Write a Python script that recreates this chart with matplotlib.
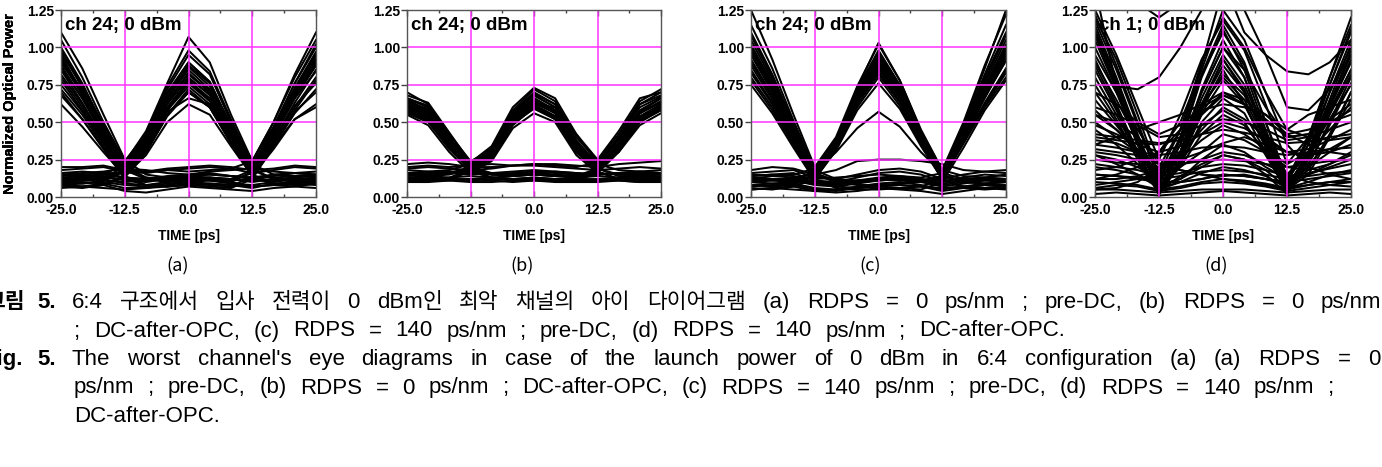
import matplotlib
matplotlib.use("Agg")
import matplotlib.pyplot as plt
from matplotlib.ticker import FixedLocator, FormatStrFormatter

# ---------------- data ----------------
time_ps = [-25.0, -20.83, -16.67, -12.5, -8.33, -4.17, 0.0, 4.17, 8.33, 12.5, 16.67, 20.83, 25.0]

eye_a = [
    [0.95, 0.70, 0.44, 0.20, 0.38, 0.66, 0.85, 0.72, 0.44, 0.20, 0.45, 0.72, 0.95],
    [0.88, 0.66, 0.40, 0.17, 0.34, 0.60, 0.78, 0.66, 0.40, 0.17, 0.40, 0.66, 0.88],
    [1.05, 0.80, 0.50, 0.24, 0.42, 0.72, 0.95, 0.82, 0.50, 0.24, 0.50, 0.80, 1.05],
    [0.78, 0.58, 0.36, 0.15, 0.30, 0.55, 0.72, 0.60, 0.36, 0.15, 0.36, 0.58, 0.78],
    [0.92, 0.68, 0.42, 0.18, 0.12, 0.10, 0.11, 0.12, 0.10, 0.17, 0.42, 0.70, 0.93],
    [0.85, 0.63, 0.38, 0.14, 0.08, 0.07, 0.09, 0.08, 0.07, 0.14, 0.38, 0.63, 0.85],
    [0.12, 0.11, 0.12, 0.18, 0.36, 0.64, 0.82, 0.70, 0.42, 0.18, 0.12, 0.11, 0.12],
    [0.08, 0.07, 0.09, 0.14, 0.32, 0.58, 0.74, 0.62, 0.37, 0.14, 0.08, 0.07, 0.09],
    [0.15, 0.14, 0.15, 0.22, 0.42, 0.74, 0.98, 0.84, 0.52, 0.22, 0.15, 0.14, 0.15],
    [0.98, 0.74, 0.46, 0.21, 0.38, 0.66, 0.87, 0.74, 0.45, 0.19, 0.12, 0.10, 0.11],
    [0.80, 0.60, 0.37, 0.16, 0.33, 0.58, 0.76, 0.64, 0.38, 0.15, 0.09, 0.08, 0.09],
    [0.10, 0.09, 0.11, 0.17, 0.36, 0.64, 0.83, 0.70, 0.43, 0.19, 0.44, 0.72, 0.96],
    [0.13, 0.12, 0.13, 0.20, 0.40, 0.70, 0.90, 0.77, 0.47, 0.21, 0.46, 0.76, 1.02],
    [0.07, 0.06, 0.08, 0.13, 0.30, 0.55, 0.70, 0.60, 0.36, 0.14, 0.34, 0.56, 0.72],
    [1.00, 0.76, 0.47, 0.20, 0.13, 0.11, 0.12, 0.13, 0.11, 0.12, 0.11, 0.12, 0.13],
    [0.70, 0.52, 0.32, 0.12, 0.08, 0.07, 0.08, 0.09, 0.08, 0.07, 0.08, 0.09, 0.08],
    [1.10, 0.86, 0.55, 0.25, 0.15, 0.13, 0.14, 0.15, 0.14, 0.13, 0.15, 0.16, 0.15],
    [0.11, 0.12, 0.11, 0.10, 0.11, 0.12, 0.13, 0.12, 0.11, 0.16, 0.40, 0.68, 0.90],
    [0.08, 0.07, 0.06, 0.05, 0.06, 0.07, 0.08, 0.07, 0.06, 0.12, 0.34, 0.52, 0.62],
    [0.16, 0.17, 0.16, 0.16, 0.17, 0.18, 0.17, 0.18, 0.19, 0.24, 0.50, 0.82, 1.10],
    [0.10, 0.11, 0.12, 0.09, 0.08, 0.10, 0.12, 0.11, 0.09, 0.08, 0.10, 0.12, 0.11],
    [0.14, 0.15, 0.16, 0.13, 0.12, 0.14, 0.15, 0.16, 0.14, 0.12, 0.14, 0.16, 0.15],
    [0.06, 0.07, 0.08, 0.04, 0.03, 0.05, 0.07, 0.06, 0.05, 0.04, 0.06, 0.07, 0.06],
    [0.18, 0.19, 0.20, 0.17, 0.16, 0.18, 0.19, 0.20, 0.19, 0.16, 0.18, 0.20, 0.19],
    [0.12, 0.13, 0.14, 0.11, 0.10, 0.12, 0.14, 0.13, 0.12, 0.10, 0.12, 0.13, 0.12],
    [0.09, 0.10, 0.09, 0.06, 0.06, 0.08, 0.10, 0.09, 0.08, 0.06, 0.09, 0.10, 0.10],
    [0.90, 0.72, 0.45, 0.22, 0.40, 0.68, 0.88, 0.76, 0.48, 0.22, 0.43, 0.70, 0.92],
    [0.72, 0.55, 0.34, 0.14, 0.31, 0.57, 0.66, 0.62, 0.40, 0.16, 0.38, 0.60, 0.80],
    [0.96, 0.75, 0.48, 0.23, 0.44, 0.76, 1.07, 0.90, 0.55, 0.24, 0.47, 0.76, 1.00],
    [0.62, 0.47, 0.30, 0.14, 0.28, 0.50, 0.62, 0.55, 0.34, 0.14, 0.32, 0.52, 0.60],
    [0.82, 0.62, 0.39, 0.18, 0.35, 0.62, 0.80, 0.68, 0.42, 0.19, 0.41, 0.66, 0.84],
    [0.98, 0.73, 0.45, 0.21, 0.39, 0.69, 0.90, 0.77, 0.47, 0.21, 0.44, 0.73, 0.97],
    [0.75, 0.57, 0.36, 0.17, 0.33, 0.59, 0.77, 0.65, 0.40, 0.18, 0.38, 0.61, 0.76],
    [0.86, 0.66, 0.42, 0.19, 0.37, 0.64, 0.82, 0.71, 0.44, 0.20, 0.42, 0.68, 0.89],
    [0.93, 0.70, 0.43, 0.19, 0.36, 0.63, 0.79, 0.69, 0.43, 0.18, 0.40, 0.69, 0.91],
    [0.68, 0.52, 0.33, 0.15, 0.30, 0.54, 0.70, 0.60, 0.37, 0.16, 0.35, 0.57, 0.70],
    [0.15, 0.16, 0.17, 0.19, 0.18, 0.16, 0.15, 0.17, 0.18, 0.19, 0.17, 0.16, 0.17],
    [0.08, 0.09, 0.10, 0.08, 0.07, 0.09, 0.10, 0.11, 0.10, 0.07, 0.08, 0.10, 0.09],
    [0.11, 0.12, 0.13, 0.12, 0.11, 0.12, 0.12, 0.13, 0.12, 0.11, 0.11, 0.12, 0.12],
    [0.13, 0.14, 0.15, 0.13, 0.12, 0.13, 0.14, 0.15, 0.14, 0.13, 0.13, 0.14, 0.14],
    [0.20, 0.20, 0.21, 0.18, 0.17, 0.19, 0.20, 0.21, 0.20, 0.18, 0.19, 0.21, 0.20],
    [0.90, 0.69, 0.43, 0.20, 0.13, 0.12, 0.13, 0.12, 0.12, 0.18, 0.41, 0.67, 0.88],
]

eye_b = [
    [0.62, 0.56, 0.36, 0.20, 0.28, 0.52, 0.64, 0.56, 0.32, 0.20, 0.34, 0.54, 0.62],
    [0.66, 0.60, 0.40, 0.22, 0.30, 0.55, 0.68, 0.60, 0.35, 0.22, 0.38, 0.58, 0.66],
    [0.58, 0.52, 0.33, 0.18, 0.25, 0.48, 0.60, 0.52, 0.30, 0.18, 0.31, 0.50, 0.58],
    [0.70, 0.62, 0.42, 0.23, 0.33, 0.58, 0.72, 0.64, 0.40, 0.24, 0.42, 0.64, 0.72],
    [0.64, 0.57, 0.37, 0.19, 0.15, 0.14, 0.15, 0.14, 0.13, 0.18, 0.35, 0.56, 0.64],
    [0.60, 0.54, 0.34, 0.17, 0.13, 0.12, 0.12, 0.12, 0.11, 0.16, 0.32, 0.52, 0.60],
    [0.15, 0.14, 0.15, 0.19, 0.28, 0.53, 0.66, 0.57, 0.33, 0.19, 0.15, 0.14, 0.15],
    [0.12, 0.11, 0.12, 0.17, 0.26, 0.50, 0.62, 0.54, 0.30, 0.17, 0.12, 0.11, 0.12],
    [0.18, 0.17, 0.18, 0.22, 0.32, 0.57, 0.70, 0.62, 0.38, 0.22, 0.18, 0.17, 0.18],
    [0.65, 0.58, 0.38, 0.21, 0.29, 0.54, 0.66, 0.58, 0.34, 0.19, 0.14, 0.13, 0.14],
    [0.56, 0.50, 0.32, 0.18, 0.27, 0.50, 0.60, 0.53, 0.31, 0.17, 0.12, 0.11, 0.12],
    [0.13, 0.12, 0.13, 0.18, 0.27, 0.52, 0.65, 0.57, 0.34, 0.20, 0.36, 0.57, 0.66],
    [0.16, 0.15, 0.16, 0.20, 0.30, 0.55, 0.68, 0.60, 0.36, 0.21, 0.40, 0.62, 0.70],
    [0.66, 0.60, 0.39, 0.20, 0.16, 0.15, 0.16, 0.15, 0.14, 0.15, 0.16, 0.15, 0.16],
    [0.60, 0.55, 0.36, 0.18, 0.13, 0.12, 0.13, 0.12, 0.12, 0.12, 0.13, 0.12, 0.13],
    [0.12, 0.13, 0.12, 0.12, 0.13, 0.12, 0.13, 0.12, 0.12, 0.17, 0.33, 0.53, 0.60],
    [0.20, 0.21, 0.20, 0.21, 0.22, 0.21, 0.22, 0.21, 0.20, 0.23, 0.40, 0.62, 0.68],
    [0.10, 0.10, 0.11, 0.10, 0.10, 0.11, 0.11, 0.10, 0.10, 0.10, 0.11, 0.10, 0.10],
    [0.13, 0.14, 0.13, 0.14, 0.13, 0.14, 0.15, 0.14, 0.13, 0.14, 0.13, 0.14, 0.13],
    [0.16, 0.17, 0.16, 0.15, 0.16, 0.17, 0.18, 0.17, 0.16, 0.15, 0.16, 0.17, 0.16],
    [0.19, 0.20, 0.19, 0.18, 0.19, 0.21, 0.21, 0.20, 0.19, 0.18, 0.19, 0.20, 0.19],
    [0.11, 0.12, 0.12, 0.11, 0.12, 0.12, 0.12, 0.12, 0.11, 0.11, 0.12, 0.12, 0.11],
    [0.22, 0.23, 0.22, 0.20, 0.20, 0.21, 0.22, 0.22, 0.21, 0.20, 0.22, 0.23, 0.24],
    [0.14, 0.15, 0.16, 0.16, 0.15, 0.16, 0.17, 0.16, 0.15, 0.16, 0.15, 0.16, 0.15],
    [0.63, 0.59, 0.42, 0.24, 0.31, 0.50, 0.62, 0.60, 0.42, 0.23, 0.30, 0.50, 0.61],
    [0.55, 0.48, 0.30, 0.16, 0.24, 0.46, 0.56, 0.50, 0.28, 0.16, 0.30, 0.48, 0.56],
    [0.68, 0.63, 0.43, 0.23, 0.34, 0.60, 0.73, 0.66, 0.42, 0.25, 0.44, 0.66, 0.70],
    [0.64, 0.58, 0.39, 0.21, 0.29, 0.53, 0.66, 0.58, 0.34, 0.21, 0.36, 0.56, 0.64],
    [0.61, 0.55, 0.36, 0.20, 0.28, 0.51, 0.63, 0.56, 0.33, 0.20, 0.34, 0.53, 0.61],
    [0.59, 0.53, 0.35, 0.19, 0.27, 0.50, 0.61, 0.54, 0.32, 0.19, 0.33, 0.52, 0.59],
    [0.66, 0.61, 0.41, 0.22, 0.31, 0.56, 0.69, 0.62, 0.37, 0.22, 0.39, 0.60, 0.67],
    [0.57, 0.51, 0.33, 0.18, 0.26, 0.49, 0.59, 0.52, 0.31, 0.18, 0.32, 0.51, 0.58],
    [0.15, 0.16, 0.17, 0.17, 0.16, 0.15, 0.16, 0.17, 0.16, 0.15, 0.16, 0.17, 0.16],
    [0.10, 0.11, 0.11, 0.12, 0.11, 0.10, 0.11, 0.11, 0.10, 0.11, 0.11, 0.10, 0.11],
    [0.62, 0.57, 0.38, 0.20, 0.15, 0.14, 0.15, 0.14, 0.14, 0.19, 0.36, 0.56, 0.63],
]

eye_c = [
    [1.00, 0.74, 0.44, 0.16, 0.36, 0.68, 0.92, 0.70, 0.40, 0.15, 0.42, 0.72, 1.00],
    [0.92, 0.68, 0.40, 0.14, 0.34, 0.64, 0.86, 0.66, 0.37, 0.13, 0.39, 0.68, 0.94],
    [1.05, 0.78, 0.47, 0.18, 0.38, 0.72, 0.98, 0.75, 0.43, 0.17, 0.44, 0.76, 1.05],
    [0.85, 0.63, 0.37, 0.12, 0.32, 0.60, 0.80, 0.61, 0.35, 0.12, 0.37, 0.62, 0.85],
    [1.25, 0.92, 0.55, 0.20, 0.40, 0.74, 1.02, 0.78, 0.45, 0.18, 0.50, 0.88, 1.22],
    [0.98, 0.72, 0.42, 0.15, 0.10, 0.08, 0.08, 0.09, 0.10, 0.14, 0.40, 0.70, 0.97],
    [0.80, 0.60, 0.35, 0.12, 0.06, 0.05, 0.05, 0.06, 0.07, 0.12, 0.36, 0.60, 0.80],
    [0.10, 0.09, 0.10, 0.15, 0.36, 0.68, 0.90, 0.69, 0.40, 0.14, 0.10, 0.09, 0.10],
    [0.06, 0.05, 0.07, 0.12, 0.33, 0.63, 0.84, 0.64, 0.36, 0.12, 0.06, 0.05, 0.06],
    [0.13, 0.12, 0.12, 0.17, 0.30, 0.46, 0.57, 0.47, 0.30, 0.16, 0.12, 0.11, 0.12],
    [0.15, 0.14, 0.15, 0.19, 0.38, 0.73, 1.03, 0.78, 0.44, 0.18, 0.14, 0.13, 0.15],
    [1.02, 0.76, 0.45, 0.17, 0.37, 0.70, 0.95, 0.72, 0.42, 0.15, 0.10, 0.09, 0.10],
    [0.88, 0.65, 0.39, 0.13, 0.33, 0.62, 0.82, 0.63, 0.36, 0.12, 0.07, 0.06, 0.07],
    [0.08, 0.07, 0.08, 0.14, 0.35, 0.66, 0.88, 0.68, 0.39, 0.14, 0.42, 0.74, 1.02],
    [0.12, 0.11, 0.12, 0.16, 0.36, 0.69, 0.93, 0.71, 0.41, 0.16, 0.46, 0.80, 1.10],
    [1.10, 0.82, 0.49, 0.18, 0.12, 0.11, 0.12, 0.13, 0.12, 0.11, 0.12, 0.13, 0.12],
    [0.75, 0.56, 0.33, 0.11, 0.07, 0.06, 0.07, 0.08, 0.07, 0.06, 0.07, 0.08, 0.07],
    [0.10, 0.11, 0.10, 0.09, 0.10, 0.11, 0.12, 0.11, 0.10, 0.13, 0.38, 0.66, 0.92],
    [0.05, 0.06, 0.05, 0.04, 0.05, 0.06, 0.07, 0.06, 0.05, 0.10, 0.33, 0.58, 0.78],
    [0.14, 0.15, 0.14, 0.12, 0.13, 0.14, 0.15, 0.14, 0.13, 0.16, 0.48, 0.86, 1.25],
    [0.10, 0.12, 0.11, 0.08, 0.07, 0.09, 0.11, 0.12, 0.10, 0.07, 0.09, 0.11, 0.10],
    [0.14, 0.15, 0.16, 0.11, 0.10, 0.13, 0.16, 0.17, 0.15, 0.10, 0.13, 0.15, 0.14],
    [0.05, 0.06, 0.07, 0.04, 0.03, 0.04, 0.06, 0.05, 0.04, 0.02, 0.04, 0.06, 0.05],
    [0.18, 0.20, 0.19, 0.15, 0.18, 0.24, 0.25, 0.25, 0.24, 0.22, 0.18, 0.17, 0.18],
    [0.08, 0.09, 0.09, 0.06, 0.05, 0.07, 0.09, 0.10, 0.08, 0.05, 0.07, 0.09, 0.08],
    [0.12, 0.14, 0.13, 0.10, 0.09, 0.11, 0.13, 0.14, 0.12, 0.09, 0.11, 0.13, 0.12],
    [0.95, 0.70, 0.42, 0.15, 0.34, 0.66, 0.88, 0.68, 0.39, 0.14, 0.40, 0.70, 0.96],
    [1.15, 0.86, 0.51, 0.19, 0.39, 0.70, 0.94, 0.72, 0.41, 0.16, 0.47, 0.82, 1.15],
    [0.97, 0.72, 0.43, 0.15, 0.35, 0.67, 0.90, 0.69, 0.39, 0.14, 0.41, 0.71, 0.98],
    [0.90, 0.67, 0.40, 0.14, 0.34, 0.65, 0.87, 0.67, 0.38, 0.13, 0.39, 0.67, 0.91],
    [1.08, 0.80, 0.48, 0.17, 0.37, 0.71, 0.96, 0.74, 0.42, 0.16, 0.45, 0.78, 1.08],
    [0.83, 0.62, 0.37, 0.13, 0.33, 0.62, 0.84, 0.64, 0.36, 0.13, 0.37, 0.63, 0.86],
    [0.78, 0.58, 0.35, 0.12, 0.31, 0.58, 0.76, 0.59, 0.34, 0.12, 0.36, 0.61, 0.83],
    [0.11, 0.12, 0.12, 0.09, 0.08, 0.10, 0.12, 0.13, 0.11, 0.08, 0.10, 0.12, 0.11],
    [0.16, 0.17, 0.18, 0.13, 0.12, 0.15, 0.18, 0.19, 0.17, 0.12, 0.15, 0.17, 0.16],
    [0.07, 0.08, 0.08, 0.05, 0.04, 0.06, 0.08, 0.08, 0.07, 0.04, 0.06, 0.08, 0.07],
    [1.00, 0.75, 0.45, 0.16, 0.11, 0.10, 0.11, 0.12, 0.11, 0.14, 0.41, 0.72, 0.99],
]

eye_d = [
    [1.15, 0.80, 0.42, 0.08, 0.35, 0.80, 1.12, 0.85, 0.45, 0.10, 0.35, 0.75, 1.12],
    [1.10, 0.75, 0.38, 0.05, 0.30, 0.72, 1.05, 0.80, 0.40, 0.06, 0.30, 0.70, 1.05],
    [0.92, 0.62, 0.30, 0.03, 0.25, 0.55, 0.70, 0.62, 0.35, 0.05, 0.28, 0.60, 0.90],
    [0.75, 0.52, 0.25, 0.02, 0.22, 0.50, 0.66, 0.56, 0.30, 0.03, 0.22, 0.50, 0.80],
    [1.25, 0.95, 0.60, 0.25, 0.55, 0.92, 1.18, 0.98, 0.62, 0.22, 0.40, 0.75, 1.10],
    [1.40, 0.74, 0.72, 0.80, 1.00, 1.25, 1.45, 1.50, 1.40, 1.30, 1.35, 1.45, 1.50],
    [1.50, 1.45, 1.30, 1.20, 1.30, 1.40, 1.45, 1.10, 0.95, 0.84, 0.82, 0.90, 1.05],
    [0.40, 0.38, 0.36, 0.35, 0.40, 0.55, 0.68, 0.62, 0.50, 0.42, 0.45, 0.50, 0.55],
    [0.30, 0.28, 0.25, 0.20, 0.28, 0.45, 0.60, 0.52, 0.40, 0.30, 0.28, 0.30, 0.35],
    [0.55, 0.45, 0.32, 0.15, 0.30, 0.62, 0.88, 0.70, 0.40, 0.12, 0.30, 0.58, 0.85],
    [0.20, 0.18, 0.15, 0.08, 0.12, 0.25, 0.35, 0.30, 0.20, 0.12, 0.15, 0.20, 0.25],
    [0.05, 0.05, 0.04, 0.03, 0.04, 0.05, 0.05, 0.05, 0.04, 0.03, 0.04, 0.05, 0.05],
    [0.10, 0.09, 0.08, 0.05, 0.07, 0.10, 0.12, 0.11, 0.09, 0.06, 0.08, 0.10, 0.10],
    [0.25, 0.23, 0.22, 0.20, 0.22, 0.24, 0.25, 0.24, 0.22, 0.20, 0.22, 0.24, 0.25],
    [0.60, 0.55, 0.48, 0.40, 0.42, 0.48, 0.52, 0.50, 0.45, 0.38, 0.40, 0.45, 0.50],
    [0.35, 0.33, 0.30, 0.28, 0.30, 0.33, 0.34, 0.33, 0.30, 0.28, 0.30, 0.32, 0.33],
    [0.88, 0.60, 0.30, 0.02, 0.25, 0.60, 0.82, 0.68, 0.42, 0.15, 0.10, 0.08, 0.10],
    [1.12, 0.78, 0.40, 0.05, 0.10, 0.12, 0.15, 0.14, 0.12, 0.10, 0.35, 0.70, 1.00],
    [0.15, 0.14, 0.12, 0.10, 0.30, 0.70, 1.00, 0.80, 0.42, 0.05, 0.08, 0.10, 0.12],
    [0.05, 0.06, 0.10, 0.20, 0.45, 0.82, 1.10, 0.88, 0.50, 0.12, 0.40, 0.80, 1.15],
    [0.45, 0.35, 0.22, 0.08, 0.12, 0.20, 0.28, 0.25, 0.15, 0.02, 0.25, 0.55, 0.82],
    [0.70, 0.62, 0.50, 0.42, 0.48, 0.60, 0.68, 0.62, 0.52, 0.40, 0.42, 0.52, 0.62],
    [1.20, 0.92, 0.55, 0.15, 0.45, 0.90, 1.20, 1.00, 0.70, 0.45, 0.55, 0.60, 0.65],
    [0.18, 0.20, 0.25, 0.30, 0.45, 0.58, 0.62, 0.60, 0.55, 0.45, 0.40, 0.38, 0.40],
    [0.95, 0.70, 0.45, 0.22, 0.18, 0.15, 0.14, 0.15, 0.12, 0.08, 0.20, 0.40, 0.65],
    [0.08, 0.10, 0.12, 0.15, 0.20, 0.30, 0.42, 0.38, 0.30, 0.20, 0.18, 0.22, 0.28],
    [0.02, 0.03, 0.02, 0.01, 0.02, 0.03, 0.04, 0.03, 0.02, 0.01, 0.02, 0.03, 0.02],
    [0.38, 0.36, 0.30, 0.22, 0.25, 0.30, 0.36, 0.40, 0.35, 0.30, 0.28, 0.32, 0.40],
    [1.05, 0.72, 0.35, 0.04, 0.28, 0.62, 0.92, 0.72, 0.38, 0.04, 0.26, 0.60, 0.92],
    [0.80, 0.55, 0.28, 0.03, 0.22, 0.48, 0.58, 0.50, 0.28, 0.04, 0.22, 0.48, 0.76],
    [0.50, 0.40, 0.30, 0.22, 0.18, 0.15, 0.12, 0.10, 0.08, 0.05, 0.15, 0.40, 0.70],
    [0.12, 0.15, 0.20, 0.30, 0.50, 0.85, 1.25, 1.05, 0.70, 0.35, 0.20, 0.15, 0.12],
    [1.18, 0.85, 0.48, 0.12, 0.40, 0.88, 1.40, 1.25, 0.95, 0.60, 0.58, 0.72, 0.95],
    [0.65, 0.48, 0.30, 0.10, 0.30, 0.62, 0.80, 0.65, 0.38, 0.10, 0.20, 0.30, 0.40],
    [0.28, 0.22, 0.15, 0.06, 0.10, 0.16, 0.20, 0.18, 0.14, 0.06, 0.10, 0.15, 0.18],
    [1.00, 0.70, 0.35, 0.06, 0.30, 0.66, 0.95, 0.75, 0.42, 0.08, 0.28, 0.62, 0.95],
    [0.85, 0.58, 0.28, 0.02, 0.24, 0.56, 0.78, 0.62, 0.33, 0.04, 0.25, 0.56, 0.85],
    [0.42, 0.40, 0.38, 0.36, 0.38, 0.42, 0.45, 0.43, 0.40, 0.36, 0.37, 0.40, 0.42],
    [0.15, 0.14, 0.13, 0.12, 0.14, 0.17, 0.18, 0.17, 0.15, 0.12, 0.14, 0.16, 0.17],
    [0.55, 0.50, 0.40, 0.25, 0.22, 0.25, 0.30, 0.28, 0.22, 0.15, 0.30, 0.52, 0.75],
    [0.32, 0.30, 0.28, 0.18, 0.30, 0.58, 0.85, 0.62, 0.35, 0.10, 0.15, 0.22, 0.30],
    [1.22, 0.88, 0.50, 0.12, 0.38, 0.82, 1.15, 0.90, 0.50, 0.12, 0.38, 0.80, 1.20],
    [0.70, 0.50, 0.28, 0.05, 0.20, 0.42, 0.55, 0.48, 0.30, 0.08, 0.18, 0.42, 0.70],
    [0.48, 0.42, 0.35, 0.30, 0.34, 0.42, 0.50, 0.46, 0.38, 0.30, 0.32, 0.38, 0.45],
    [0.22, 0.20, 0.18, 0.14, 0.16, 0.20, 0.22, 0.21, 0.18, 0.14, 0.16, 0.19, 0.22],
    [0.06, 0.08, 0.07, 0.04, 0.06, 0.09, 0.10, 0.09, 0.07, 0.04, 0.06, 0.08, 0.07],
    [0.90, 0.65, 0.38, 0.12, 0.35, 0.70, 1.00, 0.85, 0.60, 0.40, 0.42, 0.50, 0.58],
    [0.35, 0.40, 0.45, 0.50, 0.55, 0.62, 0.70, 0.65, 0.55, 0.42, 0.35, 0.30, 0.28],
    [1.08, 0.74, 0.36, 0.04, 0.14, 0.22, 0.28, 0.25, 0.18, 0.06, 0.30, 0.65, 1.02],
    [0.28, 0.25, 0.20, 0.12, 0.28, 0.60, 0.92, 0.70, 0.38, 0.06, 0.28, 0.62, 0.98],
    [0.58, 0.45, 0.30, 0.10, 0.10, 0.12, 0.15, 0.14, 0.12, 0.10, 0.12, 0.14, 0.16],
    [0.12, 0.12, 0.14, 0.18, 0.26, 0.38, 0.48, 0.42, 0.32, 0.22, 0.30, 0.45, 0.60],
]

panel_titles = ["ch 24; 0 dBm", "ch 24; 0 dBm", "ch 24; 0 dBm", "ch 1; 0 dBm"]
panel_tags = ["(a)", "(b)", "(c)", "(d)"]
x_ticks = [-25.0, -12.5, 0.0, 12.5, 25.0]
y_ticks = [0.0, 0.25, 0.5, 0.75, 1.0, 1.25]
x_label = "TIME [ps]"
y_label = "Normalized Optical Power"

caption_lines = [
    "6:4 구조에서 입사 전력이 0 dBm인 최악 채널의 아이 다이어그램 (a) RDPS = 0 ps/nm ; pre-DC, (b) RDPS = 0 ps/nm",
    "; DC-after-OPC, (c) RDPS = 140 ps/nm ; pre-DC, (d) RDPS = 140 ps/nm ; DC-after-OPC.",
    "The worst channel's eye diagrams in case of the launch power of 0 dBm in 6:4 configuration (a) (a) RDPS = 0",
    "ps/nm ; pre-DC, (b) RDPS = 0 ps/nm ; DC-after-OPC, (c) RDPS = 140 ps/nm ; pre-DC, (d) RDPS = 140 ps/nm ;",
    "DC-after-OPC.",
]

# ---------------- layout ----------------
W, H = 1382, 467
fig = plt.figure(figsize=(W / 100, H / 100), dpi=100)
fig.patch.set_facecolor("white")

LAT = ["Liberation Sans", "Noto Sans CJK KR", "DejaVu Sans"]
KOR = ["Noto Sans CJK KR", "DejaVu Sans"]
axes_px = [(61, 316), (407, 661), (751, 1006), (1095, 1351)]
top_px, bot_px = 10, 197
tag_x = [178, 522, 870, 1216]

for i, eye in enumerate([eye_a, eye_b, eye_c, eye_d]):
    l, r = axes_px[i]
    ax = fig.add_axes([l / W, 1 - bot_px / H, (r - l) / W, (bot_px - top_px) / H])
    for tr in eye:
        ax.plot(time_ps, tr, color="black", lw=1.45, zorder=2, solid_joinstyle="round")
    for gx in [-12.5, 0.0, 12.5]:
        ax.axvline(gx, color="#ff33ff", lw=1.1, zorder=3)
    for gy in [0.25, 0.5, 0.75, 1.0]:
        ax.axhline(gy, color="#ff33ff", lw=1.1, zorder=3)
    ax.set_xlim(-25, 25)
    ax.set_ylim(0, 1.25)
    ax.xaxis.set_major_locator(FixedLocator(x_ticks))
    ax.xaxis.set_minor_locator(FixedLocator([-18.75, -6.25, 6.25, 18.75]))
    ax.yaxis.set_major_locator(FixedLocator(y_ticks))
    ax.xaxis.set_major_formatter(FormatStrFormatter("%.1f"))
    ax.yaxis.set_major_formatter(FormatStrFormatter("%.2f"))
    ax.tick_params(axis="x", which="both", direction="in", top=True, length=4, width=1,
                   color="#444444", pad=4)
    ax.tick_params(axis="x", which="minor", length=2.5)
    ax.tick_params(axis="y", which="major", direction="out", right=False, length=4, width=1,
                   color="#444444", pad=1)
    for lab in ax.get_xticklabels() + ax.get_yticklabels():
        lab.set_fontweight("bold")
        lab.set_fontsize(10)
        lab.set_family(LAT)
    for sp in ax.spines.values():
        sp.set_color("#555555")
        sp.set_linewidth(1.0)
        sp.set_zorder(4)
    ax.set_xlabel(x_label, fontsize=10, fontweight="bold", family=LAT)
    ax.xaxis.set_label_coords(0.5, -(229 - bot_px) / (bot_px - top_px))
    ax.set_ylabel(y_label, fontsize=10.5, fontweight="bold", family=LAT)
    ax.yaxis.set_label_coords(-(l - 17) / (r - l), 0.5)
    ax.text(0.015, 0.965, panel_titles[i], transform=ax.transAxes, ha="left", va="top",
            fontsize=13.5, fontweight="bold", family=LAT, zorder=6)
    fig.text(tag_x[i] / W, 1 - 266 / H, panel_tags[i], ha="center", va="center",
             fontsize=13, family=KOR)

# ---------------- caption (words placed with justification) ----------------
LAT_FS = 16
KOR_FS = 15.5
renderer = fig.canvas.get_renderer()


def is_hangul(ch):
    return "\uac00" <= ch <= "\ud7a3"


def make_word(word, base_px, bold=False):
    """A word may mix Latin and Hangul; each run is its own text, set side by side."""
    runs = []
    for ch in word:
        h = is_hangul(ch)
        if runs and runs[-1][1] == h:
            runs[-1][0] += ch
        else:
            runs.append([ch, h])
    parts = []
    for s, h in runs:
        t = fig.text(0, 1 - base_px / H, s, va="baseline", ha="left",
                     fontsize=KOR_FS if h else LAT_FS,
                     family=KOR if h else LAT,
                     fontweight="bold" if bold else "normal")
        parts.append((t, t.get_window_extent(renderer).width))
    return parts


def word_width(parts):
    return sum(w for _, w in parts)


def set_word_x(parts, x):
    for t, w in parts:
        t.set_x(x / W)
        x += w
    return x


def layout_line(text, base_px, x0, x1=None, gap=None):
    words = [make_word(w, base_px) for w in text.split(" ")]
    widths = [word_width(p) for p in words]
    if gap is None:
        gap = (x1 - x0 - sum(widths)) / (len(words) - 1)
    x = x0
    for p, wd in zip(words, widths):
        set_word_x(p, x)
        x += wd + gap
    return gap


base = [308, 336.5, 365, 393.5, 422]
# hanging labels
lab1 = make_word("그림", base[0], bold=True)
set_word_x(lab1, 25 - word_width(lab1))
set_word_x(make_word("5.", base[0], bold=True), 37)
lab3 = make_word("Fig.", base[2], bold=True)
set_word_x(lab3, 23 - word_width(lab3))
set_word_x(make_word("5.", base[2], bold=True), 37)

layout_line(caption_lines[0], base[0], 72, 1381)
layout_line(caption_lines[2], base[2], 72, 1380)
g4 = layout_line(caption_lines[3], base[3], 74, 1334)
layout_line(caption_lines[1], base[1], 74, gap=g4)
layout_line(caption_lines[4], base[4], 74, gap=g4)

fig.savefig("out.png", dpi=100, facecolor="white")
